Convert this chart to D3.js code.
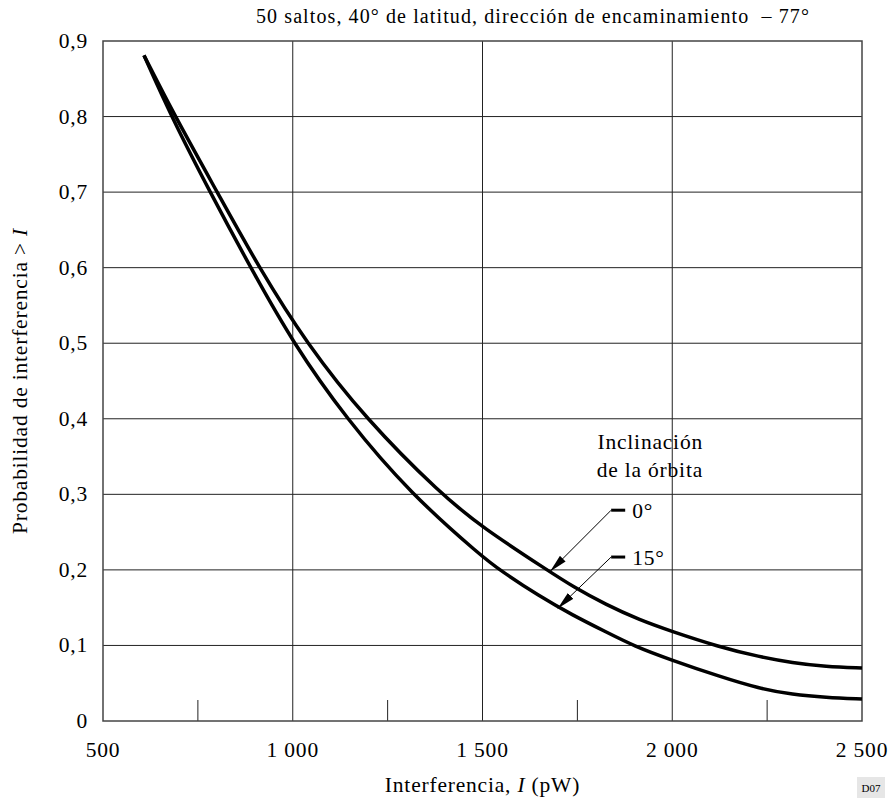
<!DOCTYPE html>
<html>
<head>
<meta charset="utf-8">
<script src="https://cdn.jsdelivr.net/npm/d3@7"></script>
<style>
  body { margin: 0; background: #fff; }
  svg text { font-family: "Liberation Serif", "Times New Roman", serif; fill: #000; letter-spacing: 0.8px; }
</style>
</head>
<body>
<div id="chart"></div>
<script>
// values
const xTicks = [500, 1000, 1500, 2000, 2500];
const xMinorTicks = [750, 1250, 1750, 2250];
const yTicks = [0, 0.1, 0.2, 0.3, 0.4, 0.5, 0.6, 0.7, 0.8, 0.9];

// orbit inclination 0°
const curve0 = [
  [608, 0.881], [690, 0.8], [801, 0.7], [911, 0.6], [1036, 0.5], [1192, 0.4],
  [1391, 0.3], [1500, 0.256], [1676, 0.198], [1738, 0.178], [1825, 0.154],
  [1913, 0.134], [1996, 0.119], [2124, 0.098], [2229, 0.085], [2317, 0.077],
  [2404, 0.072], [2500, 0.070]
];
// orbit inclination 15°
const curve15 = [
  [608, 0.881], [680, 0.8], [782, 0.7], [889, 0.6], [1001, 0.5], [1141, 0.4],
  [1312, 0.3], [1500, 0.217], [1545, 0.2], [1650, 0.165], [1738, 0.140],
  [1825, 0.118], [1900, 0.099], [1996, 0.081], [2124, 0.059], [2229, 0.043],
  [2317, 0.035], [2404, 0.031], [2500, 0.029]
];

// leader lines: label, arrow tip on curve, elbow, end of the short horizontal
const labels = [
  {text: "0°",  tip: [1678, 0.198], elbow: [1839, 0.279], end: [1876, 0.279]},
  {text: "15°", tip: [1698, 0.149], elbow: [1839, 0.217], end: [1876, 0.217]}
];

const width = 890, height = 804;
const margin = {top: 41, right: 28, bottom: 83, left: 103};

const svg = d3.select("#chart").append("svg")
  .attr("width", width)
  .attr("height", height);

const x = d3.scaleLinear().domain([500, 2500]).range([margin.left, width - margin.right]);
const y = d3.scaleLinear().domain([0, 0.9]).range([height - margin.bottom, margin.top]);

const loc = d3.formatLocale({decimal: ",", thousands: " ", grouping: [3], currency: ["", ""]});
const fmtX = loc.format(",d");
const fmtY = d => d === 0 ? "0" : loc.format(".1f")(d);

// grid
svg.append("g").selectAll("line")
  .data(yTicks.slice(1, -1))
  .join("line")
  .attr("x1", x(500)).attr("x2", x(2500))
  .attr("y1", d => y(d)).attr("y2", d => y(d))
  .attr("stroke", "#222").attr("stroke-width", 1);

svg.append("g").selectAll("line")
  .data(xTicks.slice(1, -1))
  .join("line")
  .attr("x1", d => x(d)).attr("x2", d => x(d))
  .attr("y1", y(0)).attr("y2", y(0.9))
  .attr("stroke", "#222").attr("stroke-width", 1);

// minor ticks on the bottom
svg.append("g").selectAll("line")
  .data(xMinorTicks)
  .join("line")
  .attr("x1", d => x(d)).attr("x2", d => x(d))
  .attr("y1", y(0)).attr("y2", y(0) - 21)
  .attr("stroke", "#222").attr("stroke-width", 1);

// frame
svg.append("rect")
  .attr("x", x(500)).attr("y", y(0.9))
  .attr("width", x(2500) - x(500)).attr("height", y(0) - y(0.9))
  .attr("fill", "none").attr("stroke", "#444").attr("stroke-width", 1.5);

// tick labels
svg.append("g").selectAll("text")
  .data(xTicks)
  .join("text")
  .attr("x", d => x(d)).attr("y", y(0) + 36)
  .attr("text-anchor", "middle")
  .style("font-size", "21.5px")
  .text(d => fmtX(d));

svg.append("g").selectAll("text")
  .data(yTicks)
  .join("text")
  .attr("x", x(500) - 15).attr("y", d => y(d) + 7)
  .attr("text-anchor", "end")
  .style("font-size", "21.5px")
  .text(d => fmtY(d));

// curves (basis smooths out reading noise)
const line = d3.line()
  .x(d => x(d[0])).y(d => y(d[1]))
  .curve(d3.curveBasis);

[curve0, curve15].forEach(c => {
  svg.append("path")
    .datum(c)
    .attr("d", line)
    .attr("fill", "none")
    .attr("stroke", "#000")
    .attr("stroke-width", 3.5)
    .attr("stroke-linejoin", "round");
});

// arrowhead marker
svg.append("defs").append("marker")
  .attr("id", "arrow")
  .attr("viewBox", "0 0 18 8")
  .attr("refX", 18).attr("refY", 4)
  .attr("markerWidth", 18).attr("markerHeight", 8)
  .attr("markerUnits", "userSpaceOnUse")
  .attr("orient", "auto")
  .append("path")
  .attr("d", "M0,0 L18,4 L0,8 Z")
  .attr("fill", "#000");

labels.forEach(l => {
  svg.append("line")
    .attr("x1", x(l.end[0])).attr("y1", y(l.end[1]))
    .attr("x2", x(l.elbow[0])).attr("y2", y(l.elbow[1]))
    .attr("stroke", "#000").attr("stroke-width", 3);
  svg.append("line")
    .attr("x1", x(l.elbow[0])).attr("y1", y(l.elbow[1]))
    .attr("x2", x(l.tip[0])).attr("y2", y(l.tip[1]))
    .attr("stroke", "#000").attr("stroke-width", 1)
    .attr("marker-end", "url(#arrow)");
  svg.append("text")
    .attr("x", x(l.end[0]) + 7).attr("y", y(l.end[1]) + 8)
    .style("font-size", "21.5px")
    .text(l.text);
});

svg.append("text")
  .attr("x", 703).attr("y", 449)
  .attr("text-anchor", "end")
  .style("font-size", "21.5px")
  .text("Inclinación");
svg.append("text")
  .attr("x", 703).attr("y", 477)
  .attr("text-anchor", "end")
  .style("font-size", "21.5px")
  .text("de la órbita");

// title
svg.append("text")
  .attr("x", 533).attr("y", 23)
  .attr("text-anchor", "middle")
  .style("font-size", "20px")
  .style("letter-spacing", "1.1px")
  .style("white-space", "pre")
  .text("50 saltos, 40° de latitud, dirección de encaminamiento  – 77°");

// axis titles
const xt = svg.append("text")
  .attr("x", x(1500)).attr("y", 792)
  .attr("text-anchor", "middle")
  .style("font-size", "21.5px");
xt.append("tspan").text("Interferencia, ");
xt.append("tspan").style("font-style", "italic").text("I");
xt.append("tspan").text(" (pW)");

const yt = svg.append("text")
  .attr("transform", `translate(27,${(y(0) + y(0.9)) / 2}) rotate(-90)`)
  .attr("text-anchor", "middle")
  .style("font-size", "21.5px");
yt.append("tspan").text("Probabilidad de interferencia > ");
yt.append("tspan").style("font-style", "italic").text("I");

// figure code
svg.append("rect")
  .attr("x", 857).attr("y", 777).attr("width", 28).attr("height", 21)
  .attr("fill", "#e6e6e6");
svg.append("text")
  .attr("x", 871).attr("y", 792)
  .attr("text-anchor", "middle")
  .style("font-size", "11px")
  .style("letter-spacing", "0px")
  .text("D07");
</script>
</body>
</html>
